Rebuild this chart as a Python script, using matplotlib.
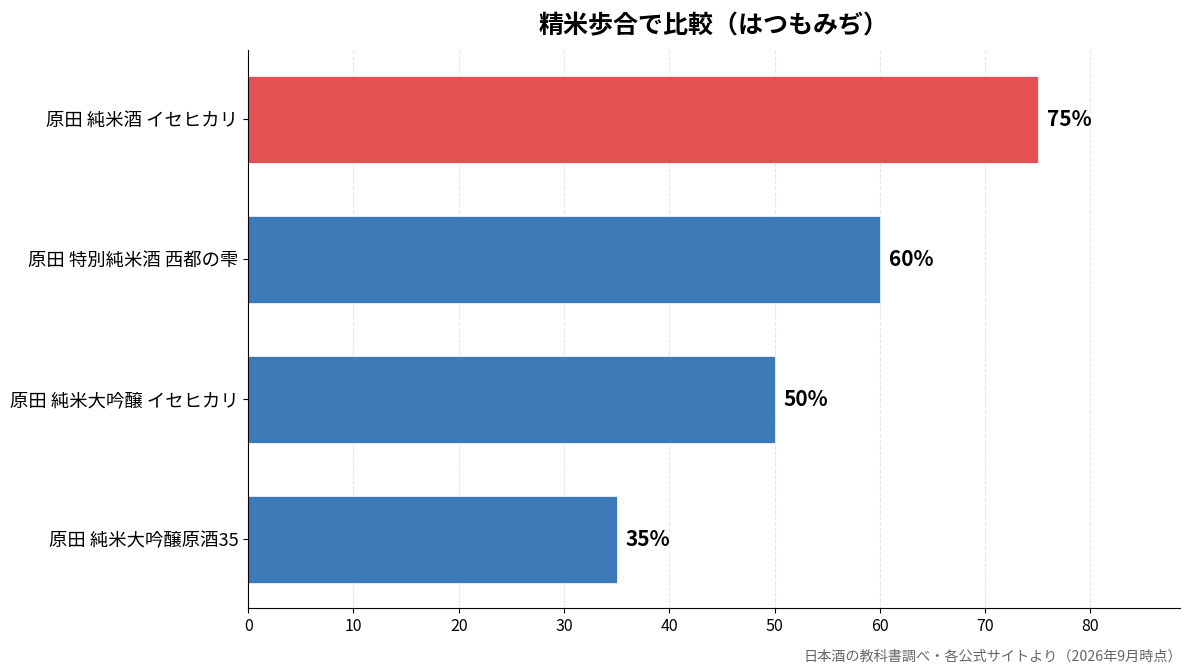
import matplotlib
matplotlib.use("Agg")
from matplotlib import pyplot as plt

plt.rcParams['font.family'] = ['Noto Sans CJK JP', 'DejaVu Sans']

# datos (de abajo hacia arriba)
nombres = ["原田 純米大吟醸原酒35", "原田 純米大吟醸 イセヒカリ", "原田 特別純米酒 西都の雫", "原田 純米酒 イセヒカリ"]
seimai = [35, 50, 60, 75]
colores = ["#3d7ab8", "#3d7ab8", "#3d7ab8", "#e45153"]
titulo = "精米歩合で比較（はつもみぢ）"
fuente = "日本酒の教科書調べ・各公式サイトより（2026年9月時点）"

fig, ax = plt.subplots(figsize=(11.93, 6.72), dpi=100)
fig.subplots_adjust(left=0.208, right=0.989, top=0.925, bottom=0.095)

y = range(len(nombres))
ax.barh(y, seimai, height=0.62, color=colores, edgecolor="white", linewidth=0.5, zorder=2)

for i, v in enumerate(seimai):
    ax.text(v + 0.85, i, f"{v}%", va="center", ha="left", fontsize=15, fontweight="bold")

ax.set_yticks(list(y))
ax.set_yticklabels(nombres, fontsize=13.2)
ax.set_xlim(0, max(seimai) * 1.18)
ax.set_xticks(range(0, 90, 10))
ax.tick_params(axis="x", labelsize=11.5)

ax.xaxis.grid(True, linestyle="--", color="#e6e6e6", linewidth=0.8, zorder=0)
ax.set_axisbelow(True)
ax.spines["top"].set_visible(False)
ax.spines["right"].set_visible(False)

ax.set_title(titulo, fontsize=18, fontweight="bold", pad=12)
fig.text(0.991, 0.013, fuente, ha="right", va="bottom", fontsize=10.2, color="#666666")

plt.savefig("out.png", dpi=100)
